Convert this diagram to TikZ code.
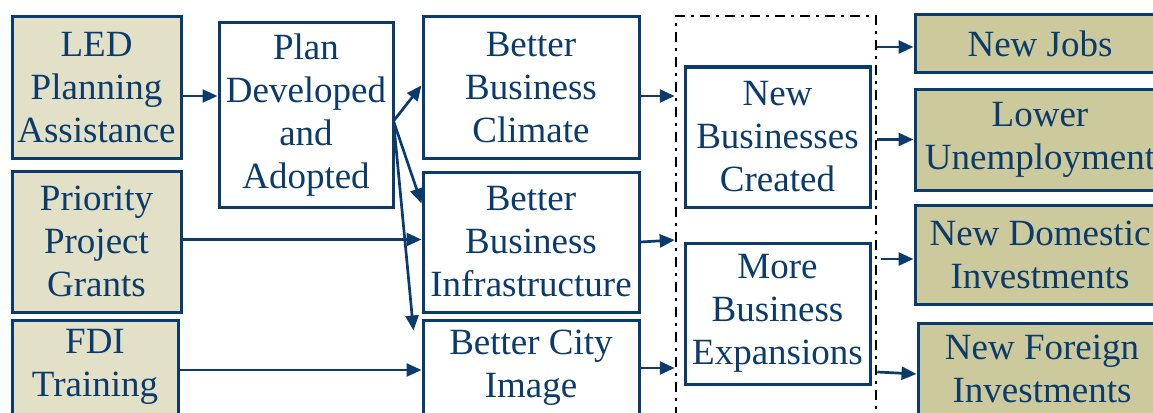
\documentclass[tikz,border=0pt]{standalone}
\usepackage{fontspec}
\setmainfont{Liberation Serif}
\usetikzlibrary{arrows.meta}
\definecolor{navy}{HTML}{0B3B6C}
\definecolor{beige}{HTML}{E2E0C6}
\definecolor{olive}{HTML}{CCCA9C}
\begin{document}
\begin{tikzpicture}[x=1pt,y=-1pt,
        box/.style={draw=navy,line width=3pt,text=navy,align=center,inner sep=0pt,
            font=\fontsize{37}{43}\selectfont},
        input/.style={box,fill=beige},
        result/.style={box,fill=olive},
        arr/.style={-{Triangle[length=15pt,width=13pt]},draw=navy,line width=2.7pt}]
\useasboundingbox (0,0) rectangle (1153,412);
\clip (0,0) rectangle (1153,412);

% dash-dot frame round the middle outcomes
\node[draw=black,line width=2.5pt,dash pattern=on 10pt off 6pt on 3pt off 6pt,
    minimum width=200pt,minimum height=434pt] (impact) at (776,233) {};

\node[input,minimum width=169pt,minimum height=141pt] (led) at (96.5,87.5) {LED\\Planning\\Assistance};
\node[input,minimum width=169pt,minimum height=141pt] (prio) at (96.5,241.5) {Priority\\Project\\Grants};
\node[input,minimum width=166pt,minimum height=94pt] (fdi) at (95,367) {FDI\\Training};

\node[box,minimum width=174pt,minimum height=184pt] (plan) at (306,115) {Plan\\Developed\\and\\Adopted};

\node[box,minimum width=216pt,minimum height=141pt] (climate) at (531,87.5) {Better\\Business\\Climate};
\node[box,minimum width=216pt,minimum height=140pt] (infra) at (531,242) {Better\\Business\\Infrastructure};
\node[box,minimum width=216pt,minimum height=96pt] (image) at (531,368) {Better City\\Image};

\node[box,minimum width=185pt,minimum height=140pt] (newbiz) at (777.5,137) {New\\Businesses\\Created};
\node[box,minimum width=185pt,minimum height=141pt] (expand) at (777.5,313.5) {More\\Business\\Expansions};

\node[result,minimum width=250pt,minimum height=57pt] (jobs) at (1040,43.5) {New Jobs};
\node[result,minimum width=250pt,minimum height=101pt] (unemp) at (1040,139.5) {Lower\\Unemployment};
\node[result,minimum width=250pt,minimum height=99pt] (domestic) at (1040,254.5) {New Domestic\\Investments};
\node[result,minimum width=248pt,minimum height=92pt] (foreign) at (1042,369) {New Foreign\\Investments};

\draw[arr] ([yshift=-8.5pt]led.east) -- ([yshift=-8.5pt]led.east -| plan.west);
\coordinate (fan) at ([xshift=-1pt,yshift=-6pt]plan.east);
\draw[arr] (fan) -- ([yshift=2pt]climate.west);
\draw[arr] (fan) -- ([yshift=-33pt]infra.north west);
\draw[arr] (fan) -- ([xshift=-8pt,yshift=-12pt]image.north west);
\draw[arr] ([yshift=2pt]prio.east) -- ([yshift=2pt]prio.east -| infra.west);
\draw[arr] ([yshift=-3pt]fdi.east) -- ([yshift=-3pt]fdi.east -| image.west);

\draw[arr] ([yshift=-8.5pt]climate.east) -- ([yshift=-8.5pt]climate.east -| impact.west);
\draw[arr] (infra.east) -- ([yshift=2pt]infra.east -| impact.west);
\draw[arr] (image.east) -- (image.east -| impact.west);

\draw[arr] ([yshift=-3.5pt]jobs.west -| impact.east) -- ([yshift=-3.5pt]jobs.west);
\draw[arr] (unemp.west -| impact.east) -- (unemp.west);
\draw[arr] ([xshift=4pt,yshift=-4.5pt]domestic.west -| impact.east) -- ([yshift=-4.5pt]domestic.west);
\draw[arr] ([yshift=-3pt]foreign.west -| impact.east) -- ([yshift=-5pt]foreign.west);
\end{tikzpicture}
\end{document}
